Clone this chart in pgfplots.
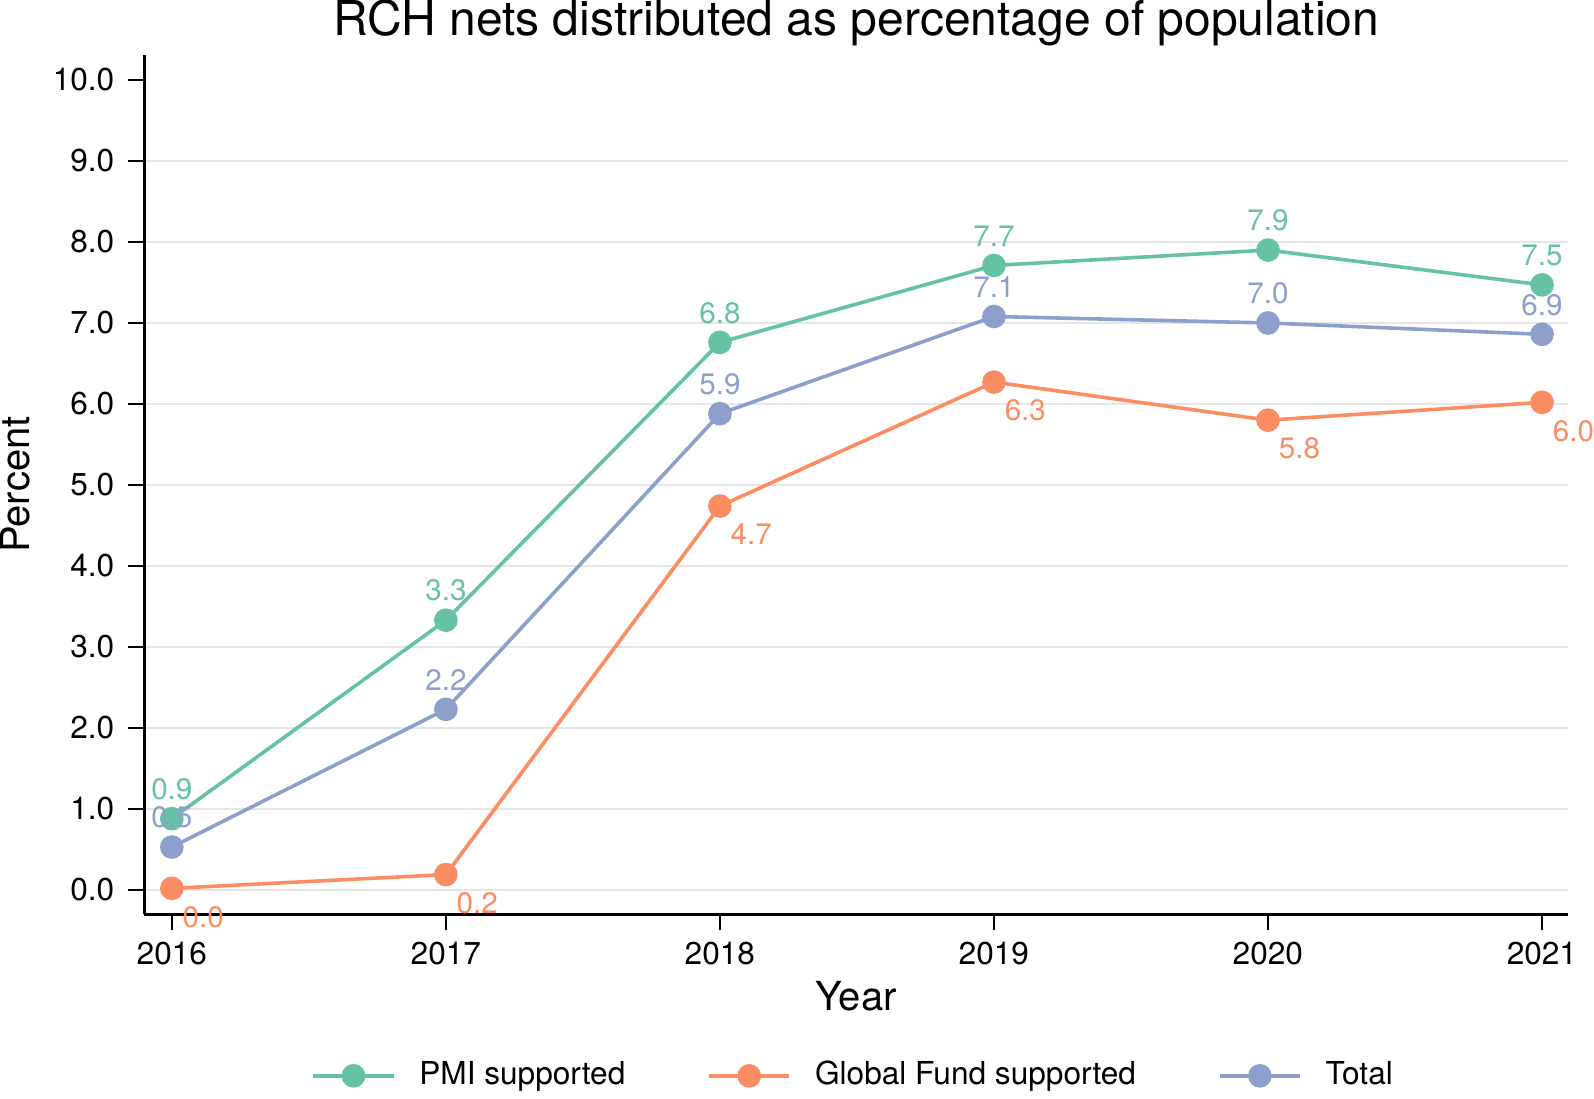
\documentclass[border=0pt]{standalone}
\usepackage{fontspec}
\setmainfont{TeX Gyre Heros}
\usepackage{pgfplots}
\pgfplotsset{compat=1.18}
\definecolor{cgreen}{HTML}{66C2A5}
\definecolor{corange}{HTML}{FC8D62}
\definecolor{cblue}{HTML}{8DA0CB}
\definecolor{gridc}{HTML}{E6E6E6}
\begin{document}
\begin{tikzpicture}
\begin{axis}[
  scale only axis, width=355.75pt, height=214.75pt,
  xmin=2015.90, xmax=2021.095, ymin=-0.30, ymax=10.31,
  clip=false,
  axis x line*=bottom, axis y line*=left,
  axis line style={line width=0.75pt, -},
  tick align=outside, major tick length=4pt,
  tick style={line width=0.6pt, black},
  xtick={2016,...,2021},
  ytick={0,...,9}, extra y ticks={10}, extra y tick style={grid=none},
  ymajorgrids, grid style={gridc, line width=0.5pt},
  /pgf/number format/assume math mode=true,
  xticklabel style={/pgf/number format/1000 sep={}, font=\fontsize{7.9}{9}\selectfont, yshift=0.5pt},
  yticklabel style={/pgf/number format/.cd, fixed, fixed zerofill, precision=1, 1000 sep={}, /tikz/.cd, font=\fontsize{7.9}{9}\selectfont},
  title={RCH nets distributed as percentage of population},
  title style={at={(0.5,1)}, anchor=base, yshift=-1.25pt, inner sep=0pt, font=\fontsize{12}{14}\selectfont},
  xlabel={Year},
  xlabel style={at={(axis description cs:0.5,-0.0955)}, anchor=center, inner sep=0pt, font=\fontsize{10}{12}\selectfont},
  ylabel={Percent},
  ylabel style={at={(axis description cs:-0.091,0.5)}, anchor=center, inner sep=0pt, font=\fontsize{10}{12}\selectfont},
  legend columns=3,
  legend cell align=left,
  legend style={at={(0.5,-0.188)}, anchor=center, draw=none, inner sep=0pt, font=\fontsize{7.9}{9}\selectfont,
    /tikz/every odd column/.append style={column sep=4pt},
    /tikz/every even column/.append style={column sep=18.5pt}},
  legend image code/.code={\draw[mark repeat=2,mark phase=2] plot coordinates {(0pt,0pt) (10pt,0pt) (20pt,0pt)};},
]
\addplot[cgreen, line width=0.9pt, mark=*, mark size=2.5pt, mark options={fill=cgreen, draw=cgreen},
  nodes near coords={\pgfmathprintnumber[fixed,fixed zerofill,precision=1]{\pgfplotspointmeta}},
  every node near coord/.append style={text=cgreen, font=\fontsize{7.4}{8}\selectfont, anchor=south, inner sep=1pt, yshift=3.25pt}]
  table {
x y
2016 0.88
2017 3.33
2018 6.76
2019 7.71
2020 7.90
2021 7.47
};
\addlegendentry{PMI supported}
\addplot[corange, line width=0.9pt, mark=*, mark size=2.5pt, mark options={fill=corange, draw=corange},
  nodes near coords={\pgfmathprintnumber[fixed,fixed zerofill,precision=1]{\pgfplotspointmeta}},
  every node near coord/.append style={text=corange, font=\fontsize{7.4}{8}\selectfont, anchor=north west, inner sep=0pt, xshift=2.25pt, yshift=-4pt}]
  table {
x y
2016 0.02
2017 0.19
2018 4.74
2019 6.27
2020 5.80
2021 6.02
};
\addlegendentry{Global Fund supported}
\addplot[cblue, line width=0.9pt, mark=*, mark size=2.5pt, mark options={fill=cblue, draw=cblue},
  nodes near coords={\pgfmathprintnumber[fixed,fixed zerofill,precision=1]{\pgfplotspointmeta}},
  every node near coord/.append style={text=cblue, font=\fontsize{7.4}{8}\selectfont, anchor=south, inner sep=1pt, yshift=3.25pt}]
  table {
x y
2016 0.53
2017 2.23
2018 5.88
2019 7.08
2020 7.00
2021 6.86
};
\addlegendentry{Total}
\end{axis}
\end{tikzpicture}
\end{document}
